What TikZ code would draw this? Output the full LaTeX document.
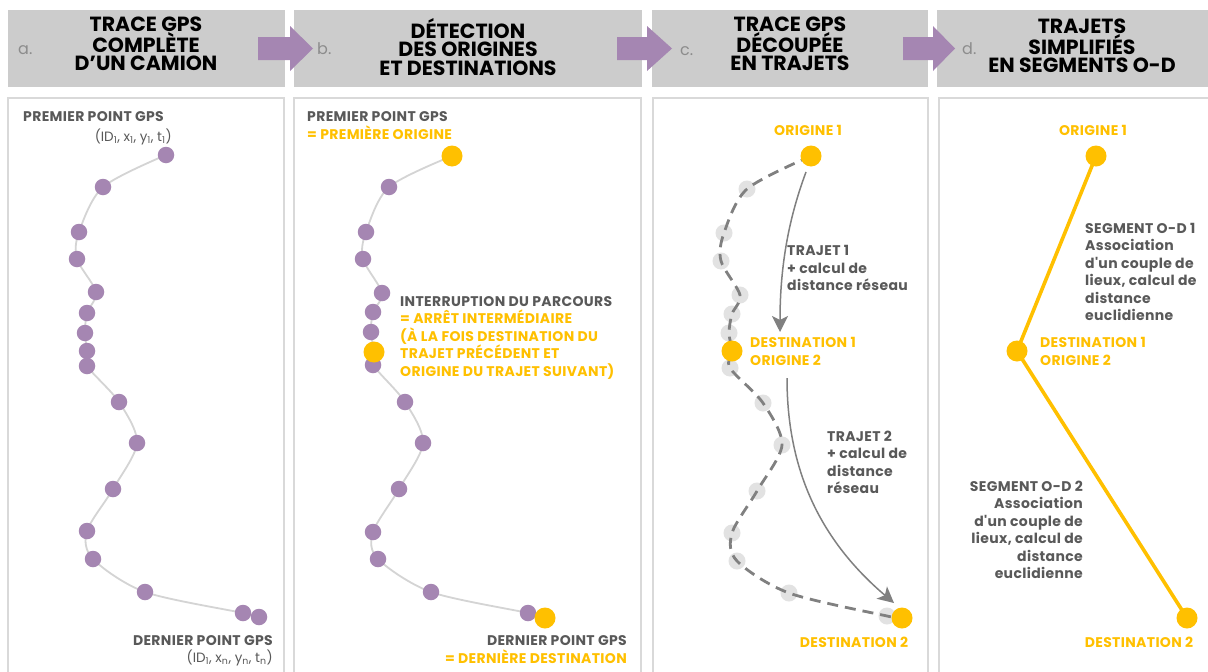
\documentclass[tikz,border=0pt]{standalone}
\usepackage{fontspec}
\setmainfont{Poppins}
\newfontfamily\lblfont{Poppins}[LetterSpace=2.5]
\usetikzlibrary{arrows.meta,positioning}

\definecolor{hdrgray}{RGB}{204,204,204}
\definecolor{panelgray}{RGB}{217,217,217}
\definecolor{stepviolet}{RGB}{165,134,178}
\definecolor{gold}{RGB}{255,192,0}
\definecolor{txtgray}{RGB}{89,89,89}
\definecolor{lettergray}{RGB}{140,140,140}
\definecolor{trailgray}{RGB}{212,212,212}
\definecolor{ghostgray}{RGB}{226,226,226}
\definecolor{dashgray}{RGB}{128,128,128}

\tikzset{
  hdrbox/.style={fill=hdrgray},
  panel/.style={draw=panelgray,line width=1.6pt,fill=white},
  blockarrow/.style={fill=stepviolet},
  ttl/.style={font=\fontsize{20.5}{18.3}\selectfont\bfseries,align=center,inner sep=0pt},
  letter/.style={font=\fontsize{16}{16}\selectfont,text=lettergray,inner sep=0pt,anchor=base west},
  lbl/.style={font=\lblfont\fontsize{14}{17.4}\selectfont\bfseries,text=txtgray,inner sep=0pt},
  goldlbl/.style={lbl,text=gold},
  idlbl/.style={font=\fontsize{13.5}{17}\selectfont,text=txtgray,inner sep=0pt,anchor=base east},
  trail/.style={draw=trailgray,line width=1.8pt},
  dashtrail/.style={draw=dashgray,line width=2.8pt,dash pattern=on 11pt off 7pt},
  pdot/.style={circle,fill=stepviolet,minimum size=16.5pt,inner sep=0pt},
  ghostdot/.style={circle,fill=ghostgray,minimum size=17pt,inner sep=0pt},
  odot/.style={circle,fill=gold,minimum size=21pt,inner sep=0pt},
  traj/.style={draw=dashgray,line width=1.5pt,-{Stealth[length=16pt,width=16pt,inset=4pt]}},
  odline/.style={draw=gold,line width=3.6pt}
}

\begin{document}
\begin{tikzpicture}[x=1pt,y=-1pt]
\useasboundingbox (0,0) rectangle (1208,672);

% Header boxes
\fill[hdrbox] (8,10) rectangle (285,87);
\fill[hdrbox] (294,10) rectangle (642,87);
\fill[hdrbox] (652,10) rectangle (928,87);
\fill[hdrbox] (937,10) rectangle (1215,87);

% Arrows between steps
\fill[blockarrow] (258,37) -- (290,37) -- (290,26) -- (313,48.5) -- (290,71) -- (290,60) -- (258,60) -- cycle;
\fill[blockarrow] (617,37) -- (647,37) -- (647,26) -- (672,48.5) -- (647,71) -- (647,60) -- (617,60) -- cycle;
\fill[blockarrow] (903,37) -- (933,37) -- (933,26) -- (955,48.5) -- (933,71) -- (933,60) -- (903,60) -- cycle;

\node[letter] (la) at (18,54) {a.};
\node[letter] (lb) at (317,54) {b.};
\node[letter] (lc) at (680,55) {c.};
\node[letter] (ld) at (962,54) {d.};

\node[ttl] (ta) at (146,44) {TRACE GPS\\COMPLÈTE\\D'UN CAMION};
\node[ttl] (tb) at (468,47) {DÉTECTION\\DES ORIGINES\\ET DESTINATIONS};
\node[ttl] (tc) at (790,44) {TRACE GPS\\DÉCOUPÉE\\EN TRAJETS};
\node[ttl] (td) at (1082,46) {TRAJETS\\SIMPLIFIÉS\\EN SEGMENTS O-D};

% Panels
\draw[panel] (8,98) rectangle (284,690);
\draw[panel] (294,98) rectangle (641,690);
\draw[panel] (653,98) rectangle (928,690);
\draw[panel] (939,98) rectangle (1220,690);

% a. complete trace
\foreach \px/\py [count=\i] in {166/155,103/187,79/232,77/259,96/292,87/313,85/333,87/351,87/366,119/402,137/443,113/489,87/531,93/559,145/592,243/613,259/617}
  \coordinate (a\i) at (\px,\py);
\draw[trail] plot[smooth] coordinates {(a1) (a2) (a3) (a4) (a5) (a6) (a7) (a8) (a9) (a10) (a11) (a12) (a13) (a14) (a15) (a16) (a17)};
\foreach \i in {1,...,17}
  \node[pdot] (pa\i) at (a\i) {};
\node[lbl,anchor=base west] (firsta) at (23,121) {PREMIER POINT GPS};
\node[idlbl] (ida) at (172,141) {(ID\textsubscript{1}, x\textsubscript{1}, y\textsubscript{1}, t\textsubscript{1})};
\node[lbl,anchor=base east] (lasta) at (273,645) {DERNIER POINT GPS};
\node[idlbl] (idn) at (273,662) {(ID\textsubscript{1}, x\textsubscript{n}, y\textsubscript{n}, t\textsubscript{n})};

% b. origins and destinations
\foreach \px/\py [count=\i] in {452/156,389/187,366/232,363/259,382/293,373/312,371/332,374/352,373/365,405/402,423/443,399/489,373/532,378/559,431/592,528/613,545/618}
  \coordinate (b\i) at (\px,\py);
\draw[trail] plot[smooth] coordinates {(b1) (b2) (b3) (b4) (b5) (b6) (b7) (b8) (b9) (b10) (b11) (b12) (b13) (b14) (b15) (b16) (b17)};
\foreach \i in {2,...,7,9,10,...,16}
  \node[pdot] (pb\i) at (b\i) {};
\node[odot] (ob1) at (b1) {};
\node[odot] (ob8) at (b8) {};
\node[odot] (ob17) at (b17) {};
\node[lbl,anchor=base west,align=left] (firstb) at (307,139) {PREMIER POINT GPS\\\textcolor{gold}{= PREMIÈRE ORIGINE}};
\node[lbl,anchor=base west,align=left] (stopb) at (400,376) {INTERRUPTION DU PARCOURS\\\textcolor{gold}{= ARRÊT INTERMÉDIAIRE}\\\textcolor{gold}{(À LA FOIS DESTINATION DU}\\\textcolor{gold}{TRAJET PRÉCÉDENT ET}\\\textcolor{gold}{ORIGINE DU TRAJET SUIVANT)}};
\node[lbl,anchor=base east,align=right] (lastb) at (627,663) {DERNIER POINT GPS\\\textcolor{gold}{= DERNIÈRE DESTINATION}};

% c. trace cut into trips
\foreach \px/\py [count=\i] in {811/156,747/189,724/233,721/261,740/295,732/314,729/333,732/351,730/368,763/403,782/445,757/491,732/533,737/561,789/593,887/616,902/618}
  \coordinate (c\i) at (\px,\py);
\foreach \i in {2,...,7,9,10,...,16}
  \node[ghostdot] (gc\i) at (c\i) {};
\draw[dashtrail] plot[smooth] coordinates {(c1) (c2) (c3) (c4) (c5) (c6) (c7) (c8) (c9) (c10) (c11) (c12) (c13) (c14) (c15) (c16) (c17)};
\node[odot] (oc1) at (c1) {};
\node[odot] (oc8) at (c8) {};
\node[odot] (oc17) at (c17) {};
\coordinate (t1s) at (806,172);
\coordinate (t1e) at (780,332);
\coordinate (t2s) at (787,378);
\coordinate (t2e) at (894,603);
\draw[traj] (t1s) .. controls (790,215) and (780,262) .. (t1e);
\draw[traj] (t2s) .. controls (787,470) and (820,540) .. (t2e);
\node[goldlbl,anchor=base] (orc1) at (808,135.5) {ORIGINE 1};
\node[lbl,anchor=base west,align=left] (trc1) at (787,290.5) {TRAJET 1\\+ calcul de\\distance réseau};
\node[goldlbl,anchor=base west,align=left] (dsc1) at (750,365) {DESTINATION 1\\ORIGINE 2};
\node[lbl,anchor=base west,align=left] (trc2) at (827,493.5) {TRAJET 2\\+ calcul de\\distance\\réseau};
\node[goldlbl,anchor=base] (dsc2) at (854,647.5) {DESTINATION 2};

% d. simplified O-D segments
\node[odot] (od1) at (1096,156) {};
\node[odot] (od2) at (1017,351) {};
\node[odot] (od3) at (1187,618) {};
\draw[odline] (od1.center) -- (od2.center) -- (od3.center);
\node[goldlbl,anchor=base] (ord1) at (1093,135.5) {ORIGINE 1};
\node[lbl,anchor=base west,align=left] (sgd1) at (1085,320.5) {SEGMENT O-D 1\\Association\\d'un couple de\\lieux, calcul de\\distance\\euclidienne};
\node[goldlbl,anchor=base west,align=left] (dsd1) at (1040,365) {DESTINATION 1\\ORIGINE 2};
\node[lbl,anchor=base east,align=right] (sgd2) at (1083,578.5) {SEGMENT O-D 2\\Association\\d'un couple de\\lieux, calcul de\\distance\\euclidienne};
\node[goldlbl,anchor=base] (dsd2) at (1139,647.5) {DESTINATION 2};
\end{tikzpicture}
\end{document}
